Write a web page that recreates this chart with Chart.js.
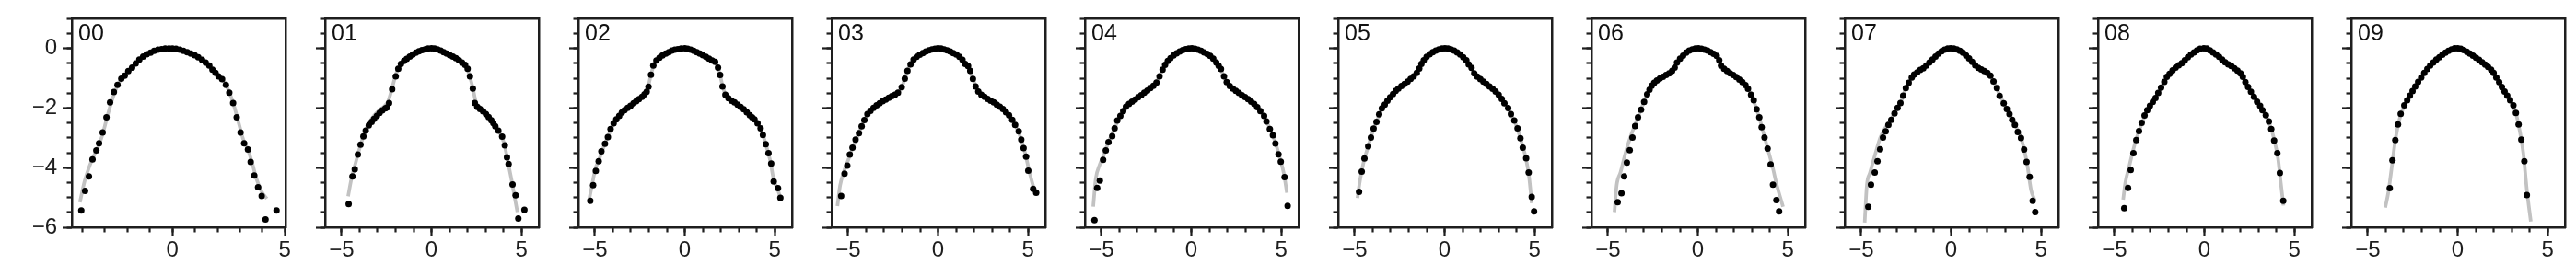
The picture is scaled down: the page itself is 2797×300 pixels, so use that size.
<!DOCTYPE html>
<html><head><meta charset="utf-8">
<script src="https://cdn.jsdelivr.net/npm/chart.js@4/dist/chart.umd.min.js"></script>
<style>
html,body{margin:0;padding:0;background:#fff;width:2797px;height:300px;overflow:hidden;position:relative}
canvas{position:absolute;top:0}
</style></head><body>
<script>
// ---------- data ----------
const panelLabels = ['00','01','02','03','04','05','06','07','08','09'];
const xLimits = [[-4.47,5.03],[-5.92,5.97],[-5.92,5.97],[-5.92,5.97],[-5.92,5.97],[-5.92,5.97],[-5.92,5.97],[-5.92,5.97],[-5.92,5.97],[-5.92,5.97]];
const yLimits = [-6, 1];
const xMajorTicks = [-5, 0, 5];
const xMinorTicks = [-5, -4, -3, -2, -1, 0, 1, 2, 3, 4, 5];
const yMajorTicks = [-6, -4, -2, 0];
const yMinorTicks = [-6, -5.5, -5, -4.5, -4, -3.5, -3, -2.5, -2, -1.5, -1, -0.5, 0, 0.5, 1];

// measured points [x, y]
const dots00 = [[-4.05,-5.44],[-3.88,-4.78],[-3.71,-4.29],[-3.55,-3.72],[-3.38,-3.42],[-3.26,-3.18],[-3.10,-2.82],[-2.93,-2.31],[-2.77,-1.81],[-2.60,-1.46],[-2.44,-1.22],[-2.27,-1.01],[-2.12,-0.91],[-1.96,-0.76],[-1.79,-0.64],[-1.63,-0.50],[-1.47,-0.37],[-1.30,-0.27],[-1.14,-0.19],[-0.97,-0.14],[-0.81,-0.08],[-0.64,-0.04],[-0.48,-0.02],[-0.32,0.00],[-0.15,0.00],[0.00,0.00],[0.16,-0.01],[0.33,-0.04],[0.49,-0.08],[0.66,-0.12],[0.82,-0.17],[0.99,-0.22],[1.15,-0.29],[1.32,-0.38],[1.48,-0.47],[1.64,-0.57],[1.78,-0.71],[1.92,-0.82],[2.05,-0.93],[2.21,-1.03],[2.38,-1.22],[2.53,-1.48],[2.70,-1.83],[2.86,-2.31],[3.03,-2.82],[3.19,-3.18],[3.36,-3.39],[3.48,-3.81],[3.64,-4.26],[3.81,-4.66],[3.97,-4.95],[4.14,-5.74],[4.63,-5.44]];
const dots01 = [[-4.61,-5.22],[-4.40,-4.29],[-4.27,-4.05],[-4.10,-3.56],[-3.95,-3.23],[-3.79,-2.95],[-3.66,-2.76],[-3.49,-2.58],[-3.33,-2.46],[-3.20,-2.36],[-3.04,-2.26],[-2.89,-2.16],[-2.74,-2.08],[-2.57,-2.01],[-2.47,-1.98],[-2.36,-1.83],[-2.19,-1.37],[-1.99,-0.93],[-1.85,-0.68],[-1.70,-0.52],[-1.53,-0.42],[-1.38,-0.35],[-1.21,-0.27],[-1.04,-0.20],[-0.87,-0.14],[-0.70,-0.09],[-0.53,-0.05],[-0.36,-0.03],[-0.19,0.00],[0.00,0.01],[0.17,0.00],[0.34,-0.03],[0.51,-0.07],[0.68,-0.12],[0.85,-0.17],[1.02,-0.22],[1.19,-0.27],[1.36,-0.32],[1.53,-0.39],[1.70,-0.47],[1.87,-0.55],[2.01,-0.68],[2.14,-0.93],[2.30,-1.34],[2.41,-1.83],[2.55,-1.96],[2.70,-2.03],[2.87,-2.11],[3.03,-2.20],[3.18,-2.30],[3.33,-2.41],[3.44,-2.50],[3.55,-2.61],[3.72,-2.76],[3.93,-2.96],[4.08,-3.25],[4.20,-3.65],[4.29,-3.88],[4.51,-4.56],[4.68,-4.93],[4.83,-5.71],[5.17,-5.41]];
const dots02 = [[-5.26,-5.11],[-5.10,-4.59],[-4.95,-4.11],[-4.79,-3.78],[-4.64,-3.45],[-4.44,-3.20],[-4.28,-2.97],[-4.13,-2.70],[-3.96,-2.51],[-3.81,-2.38],[-3.65,-2.26],[-3.50,-2.15],[-3.35,-2.07],[-3.18,-1.99],[-3.02,-1.92],[-2.85,-1.84],[-2.70,-1.77],[-2.55,-1.70],[-2.38,-1.62],[-2.24,-1.54],[-2.12,-1.45],[-2.02,-1.28],[-1.88,-0.88],[-1.75,-0.57],[-1.58,-0.40],[-1.41,-0.31],[-1.24,-0.23],[-1.06,-0.17],[-0.89,-0.12],[-0.72,-0.07],[-0.55,-0.04],[-0.38,-0.02],[-0.20,0.00],[0.00,0.01],[0.16,-0.01],[0.33,-0.04],[0.50,-0.08],[0.67,-0.12],[0.84,-0.17],[1.01,-0.22],[1.18,-0.28],[1.35,-0.34],[1.52,-0.40],[1.69,-0.45],[1.85,-0.64],[1.97,-0.89],[2.10,-1.27],[2.26,-1.55],[2.43,-1.67],[2.60,-1.75],[2.77,-1.81],[2.94,-1.88],[3.11,-1.96],[3.28,-2.04],[3.45,-2.14],[3.62,-2.24],[3.75,-2.31],[3.88,-2.38],[4.05,-2.51],[4.22,-2.68],[4.35,-2.90],[4.51,-3.21],[4.66,-3.51],[4.81,-3.86],[4.95,-4.46],[5.19,-4.69],[5.32,-5.01]];
const dots03 = [[-5.39,-4.95],[-5.20,-4.20],[-5.05,-3.93],[-4.91,-3.56],[-4.76,-3.33],[-4.59,-3.06],[-4.40,-2.84],[-4.25,-2.61],[-4.10,-2.40],[-3.93,-2.20],[-3.76,-2.09],[-3.59,-1.99],[-3.42,-1.91],[-3.25,-1.84],[-3.08,-1.77],[-2.91,-1.71],[-2.74,-1.65],[-2.57,-1.60],[-2.40,-1.55],[-2.23,-1.48],[-2.02,-1.30],[-1.85,-1.01],[-1.70,-0.75],[-1.53,-0.53],[-1.36,-0.37],[-1.19,-0.28],[-1.02,-0.21],[-0.85,-0.15],[-0.68,-0.10],[-0.51,-0.06],[-0.34,-0.03],[-0.17,-0.01],[0.00,0.01],[0.17,0.00],[0.34,-0.03],[0.51,-0.06],[0.68,-0.10],[0.85,-0.15],[1.02,-0.20],[1.19,-0.28],[1.36,-0.38],[1.51,-0.52],[1.67,-0.59],[1.79,-0.75],[1.94,-1.02],[2.09,-1.27],[2.24,-1.44],[2.41,-1.55],[2.59,-1.62],[2.76,-1.69],[2.93,-1.75],[3.10,-1.81],[3.27,-1.88],[3.44,-1.95],[3.61,-2.03],[3.78,-2.14],[3.95,-2.24],[4.13,-2.39],[4.29,-2.56],[4.49,-2.78],[4.63,-3.06],[4.76,-3.34],[4.90,-3.63],[5.02,-4.10],[5.29,-4.71],[5.46,-4.84]];
const dots04 = [[-5.39,-5.76],[-5.24,-4.68],[-5.09,-4.43],[-4.91,-3.74],[-4.76,-3.42],[-4.61,-3.14],[-4.40,-2.94],[-4.27,-2.68],[-4.12,-2.42],[-3.95,-2.26],[-3.79,-2.10],[-3.64,-1.95],[-3.47,-1.86],[-3.30,-1.78],[-3.13,-1.71],[-2.96,-1.64],[-2.79,-1.57],[-2.62,-1.48],[-2.45,-1.41],[-2.28,-1.33],[-2.11,-1.25],[-1.94,-1.14],[-1.77,-0.93],[-1.60,-0.71],[-1.46,-0.55],[-1.31,-0.42],[-1.16,-0.32],[-0.99,-0.23],[-0.82,-0.16],[-0.65,-0.10],[-0.48,-0.05],[-0.31,-0.02],[-0.14,0.00],[0.03,0.01],[0.20,-0.01],[0.37,-0.04],[0.54,-0.08],[0.71,-0.13],[0.88,-0.18],[1.05,-0.25],[1.22,-0.34],[1.39,-0.47],[1.52,-0.58],[1.65,-0.69],[1.82,-0.93],[1.97,-1.13],[2.14,-1.26],[2.31,-1.34],[2.48,-1.42],[2.65,-1.49],[2.82,-1.57],[2.99,-1.63],[3.16,-1.70],[3.33,-1.78],[3.50,-1.86],[3.67,-1.97],[3.84,-2.10],[4.05,-2.26],[4.18,-2.45],[4.37,-2.70],[4.54,-2.91],[4.68,-3.19],[4.85,-3.55],[4.98,-3.80],[5.19,-4.32],[5.36,-5.28]];
const dots05 = [[-4.76,-4.81],[-4.61,-4.13],[-4.46,-3.69],[-4.25,-3.28],[-4.10,-2.99],[-3.95,-2.69],[-3.79,-2.46],[-3.64,-2.21],[-3.49,-2.01],[-3.33,-1.88],[-3.18,-1.75],[-3.03,-1.64],[-2.87,-1.53],[-2.72,-1.42],[-2.57,-1.34],[-2.40,-1.26],[-2.23,-1.19],[-2.06,-1.11],[-1.89,-1.02],[-1.72,-0.93],[-1.55,-0.82],[-1.41,-0.67],[-1.29,-0.52],[-1.16,-0.39],[-1.00,-0.28],[-0.83,-0.19],[-0.66,-0.12],[-0.49,-0.07],[-0.32,-0.03],[-0.15,0.00],[0.02,0.01],[0.19,0.00],[0.36,-0.03],[0.53,-0.07],[0.70,-0.13],[0.87,-0.20],[1.04,-0.29],[1.21,-0.39],[1.34,-0.53],[1.50,-0.65],[1.65,-0.83],[1.82,-0.94],[1.99,-1.03],[2.16,-1.11],[2.33,-1.19],[2.50,-1.27],[2.67,-1.35],[2.84,-1.44],[3.01,-1.55],[3.18,-1.69],[3.33,-1.84],[3.54,-2.00],[3.69,-2.20],[3.88,-2.42],[4.06,-2.68],[4.22,-3.01],[4.35,-3.33],[4.54,-3.68],[4.68,-4.16],[4.85,-4.98],[4.98,-5.47]];
const dots06 = [[-4.46,-5.16],[-4.25,-4.86],[-4.10,-4.29],[-3.95,-3.83],[-3.79,-3.41],[-3.64,-2.99],[-3.49,-2.60],[-3.33,-2.31],[-3.16,-2.05],[-2.99,-1.79],[-2.82,-1.54],[-2.69,-1.38],[-2.57,-1.25],[-2.43,-1.15],[-2.28,-1.07],[-2.11,-1.00],[-1.94,-0.95],[-1.77,-0.89],[-1.60,-0.83],[-1.43,-0.75],[-1.29,-0.64],[-1.16,-0.47],[-0.99,-0.34],[-0.82,-0.24],[-0.65,-0.14],[-0.48,-0.07],[-0.31,-0.03],[-0.14,0.00],[0.03,0.01],[0.20,-0.01],[0.37,-0.04],[0.54,-0.07],[0.71,-0.12],[0.88,-0.18],[1.05,-0.25],[1.19,-0.39],[1.29,-0.57],[1.46,-0.68],[1.63,-0.76],[1.80,-0.83],[1.97,-0.89],[2.14,-0.96],[2.31,-1.04],[2.48,-1.13],[2.65,-1.23],[2.79,-1.35],[2.96,-1.55],[3.11,-1.74],[3.27,-2.04],[3.42,-2.31],[3.55,-2.64],[3.71,-2.99],[3.88,-3.36],[4.05,-3.89],[4.18,-4.57],[4.37,-5.09],[4.52,-5.47]];
const dots07 = [[-4.61,-5.31],[-4.46,-4.57],[-4.25,-4.16],[-4.10,-3.78],[-3.95,-3.38],[-3.79,-2.99],[-3.64,-2.78],[-3.49,-2.56],[-3.33,-2.39],[-3.15,-2.18],[-2.98,-1.99],[-2.82,-1.83],[-2.67,-1.58],[-2.52,-1.33],[-2.36,-1.15],[-2.19,-0.97],[-2.06,-0.87],[-1.89,-0.80],[-1.72,-0.72],[-1.55,-0.66],[-1.38,-0.57],[-1.21,-0.47],[-1.04,-0.37],[-0.87,-0.27],[-0.70,-0.17],[-0.53,-0.09],[-0.36,-0.04],[-0.19,0.00],[-0.02,0.01],[0.15,0.00],[0.32,-0.03],[0.49,-0.08],[0.66,-0.14],[0.83,-0.23],[1.00,-0.33],[1.17,-0.45],[1.34,-0.56],[1.51,-0.65],[1.68,-0.70],[1.85,-0.76],[2.02,-0.82],[2.19,-0.91],[2.36,-1.10],[2.55,-1.33],[2.70,-1.59],[2.93,-1.84],[3.10,-2.03],[3.25,-2.20],[3.40,-2.39],[3.55,-2.56],[3.71,-2.80],[3.89,-3.00],[4.06,-3.39],[4.20,-3.81],[4.37,-4.31],[4.54,-5.11],[4.68,-5.49]];
const dots08 = [[-4.46,-5.36],[-4.25,-4.68],[-4.10,-4.08],[-3.95,-3.51],[-3.79,-3.07],[-3.64,-2.77],[-3.49,-2.49],[-3.33,-2.25],[-3.18,-2.07],[-3.03,-1.92],[-2.87,-1.79],[-2.72,-1.66],[-2.57,-1.49],[-2.41,-1.31],[-2.23,-1.12],[-2.09,-0.95],[-1.94,-0.85],[-1.77,-0.73],[-1.60,-0.64],[-1.43,-0.56],[-1.26,-0.49],[-1.09,-0.39],[-0.92,-0.29],[-0.75,-0.20],[-0.58,-0.13],[-0.41,-0.06],[-0.24,-0.01],[-0.03,0.01],[0.14,0.00],[0.31,-0.06],[0.48,-0.13],[0.65,-0.20],[0.82,-0.28],[0.99,-0.37],[1.16,-0.46],[1.33,-0.53],[1.50,-0.59],[1.67,-0.66],[1.84,-0.74],[2.01,-0.83],[2.14,-0.95],[2.28,-1.13],[2.43,-1.29],[2.59,-1.45],[2.76,-1.62],[2.93,-1.78],[3.10,-1.92],[3.23,-2.07],[3.42,-2.24],[3.59,-2.45],[3.72,-2.70],[3.88,-3.09],[4.06,-3.51],[4.20,-4.18],[4.39,-5.11]];
const dots09 = [[-3.78,-4.69],[-3.63,-3.75],[-3.47,-3.07],[-3.32,-2.55],[-3.17,-2.19],[-2.97,-1.91],[-2.81,-1.74],[-2.66,-1.58],[-2.51,-1.43],[-2.36,-1.27],[-2.20,-1.12],[-2.03,-0.97],[-1.86,-0.82],[-1.69,-0.69],[-1.53,-0.57],[-1.36,-0.47],[-1.19,-0.37],[-1.02,-0.29],[-0.85,-0.21],[-0.68,-0.14],[-0.51,-0.08],[-0.34,-0.03],[-0.17,0.01],[0.00,0.01],[0.17,-0.01],[0.34,-0.05],[0.51,-0.11],[0.68,-0.17],[0.85,-0.24],[1.02,-0.31],[1.19,-0.38],[1.36,-0.46],[1.53,-0.54],[1.69,-0.62],[1.86,-0.71],[2.00,-0.82],[2.15,-0.97],[2.31,-1.13],[2.46,-1.29],[2.61,-1.44],[2.76,-1.58],[2.92,-1.74],[3.10,-1.91],[3.24,-2.16],[3.39,-2.55],[3.54,-3.06],[3.71,-3.78],[3.85,-4.92]];

// smooth fitted curve (grey) [x, y]
const fit00 = [[-4.11,-5.16],[-3.9,-4.45],[-3.7,-3.98],[-3.5,-3.62],[-3.3,-3.3],[-3.1,-2.88],[-2.9,-2.3],[-2.7,-1.78],[-2.5,-1.35],[-2.3,-1.06],[-2.0,-0.8],[-1.6,-0.48],[-1.2,-0.22],[-0.7,-0.07],[0,0],[0.6,-0.09],[1.0,-0.22],[1.4,-0.42],[1.8,-0.72],[2.1,-0.96],[2.35,-1.18],[2.55,-1.5],[2.75,-1.95],[2.95,-2.5],[3.15,-3.05],[3.35,-3.38],[3.55,-3.85],[3.75,-4.4],[3.95,-4.78],[4.2,-5.04]];
const fit01 = [[-4.64,-4.96],[-4.45,-4.35],[-4.25,-3.9],[-4.0,-3.35],[-3.75,-2.88],[-3.5,-2.52],[-3.2,-2.25],[-2.9,-2.07],[-2.6,-1.92],[-2.4,-1.75],[-2.2,-1.35],[-2.0,-0.9],[-1.8,-0.6],[-1.5,-0.4],[-1.0,-0.19],[-0.5,-0.05],[0,0],[0.5,-0.07],[1.0,-0.22],[1.5,-0.38],[1.9,-0.58],[2.1,-0.88],[2.3,-1.32],[2.45,-1.75],[2.6,-1.93],[2.9,-2.08],[3.2,-2.27],[3.5,-2.55],[3.8,-2.83],[4.05,-3.2],[4.25,-3.8],[4.45,-4.4],[4.6,-4.9],[4.78,-5.49]];
const fit02 = [[-5.33,-5.1],[-5.15,-4.55],[-4.98,-4.05],[-4.75,-3.7],[-4.5,-3.28],[-4.2,-2.85],[-3.9,-2.46],[-3.5,-2.15],[-3.0,-1.91],[-2.5,-1.67],[-2.25,-1.52],[-2.05,-1.3],[-1.88,-0.88],[-1.72,-0.55],[-1.5,-0.36],[-1.0,-0.15],[-0.5,-0.03],[0,0],[0.5,-0.08],[1.0,-0.22],[1.5,-0.39],[1.75,-0.5],[1.95,-0.85],[2.12,-1.3],[2.3,-1.58],[2.6,-1.75],[3.0,-1.92],[3.5,-2.17],[3.9,-2.4],[4.25,-2.72],[4.5,-3.2],[4.75,-3.75],[4.95,-4.4],[5.15,-4.7],[5.35,-5.05]];
const fit03 = [[-5.6,-5.29],[-5.45,-4.6],[-5.25,-4.15],[-5.0,-3.75],[-4.75,-3.33],[-4.45,-2.9],[-4.15,-2.47],[-3.9,-2.18],[-3.5,-1.95],[-3.0,-1.74],[-2.5,-1.57],[-2.2,-1.45],[-2.0,-1.27],[-1.8,-0.92],[-1.6,-0.6],[-1.35,-0.37],[-1.0,-0.2],[-0.5,-0.06],[0,0],[0.5,-0.06],[1.0,-0.2],[1.4,-0.42],[1.7,-0.68],[1.95,-1.03],[2.2,-1.4],[2.5,-1.59],[3.0,-1.78],[3.5,-1.98],[3.9,-2.2],[4.25,-2.52],[4.55,-2.92],[4.85,-3.52],[5.05,-4.05],[5.3,-4.62],[5.48,-4.79]];
const fit04 = [[-5.46,-5.31],[-5.32,-4.38],[-5.1,-3.9],[-4.9,-3.62],[-4.6,-3.12],[-4.3,-2.72],[-4.0,-2.3],[-3.7,-2.0],[-3.3,-1.78],[-2.8,-1.57],[-2.3,-1.34],[-2.0,-1.18],[-1.8,-0.96],[-1.55,-0.65],[-1.3,-0.42],[-1.0,-0.23],[-0.5,-0.05],[0,0],[0.5,-0.07],[1.0,-0.22],[1.35,-0.44],[1.65,-0.72],[1.9,-1.05],[2.15,-1.26],[2.5,-1.43],[3.0,-1.64],[3.5,-1.87],[3.85,-2.1],[4.1,-2.35],[4.4,-2.72],[4.7,-3.2],[4.95,-3.72],[5.15,-4.2],[5.32,-4.84]];
const fit05 = [[-4.85,-5.02],[-4.7,-4.4],[-4.5,-3.8],[-4.25,-3.28],[-4.0,-2.8],[-3.75,-2.4],[-3.5,-2.04],[-3.2,-1.77],[-2.9,-1.55],[-2.5,-1.3],[-2.0,-1.08],[-1.6,-0.86],[-1.4,-0.66],[-1.2,-0.43],[-1.0,-0.28],[-0.5,-0.07],[0,0],[0.5,-0.07],[1.0,-0.27],[1.3,-0.5],[1.6,-0.78],[1.9,-0.99],[2.3,-1.18],[2.8,-1.42],[3.1,-1.6],[3.4,-1.9],[3.7,-2.22],[4.0,-2.6],[4.25,-3.08],[4.5,-3.62],[4.7,-4.3],[4.85,-5.19]];
const fit06 = [[-4.64,-5.49],[-4.52,-4.6],[-4.3,-4.15],[-4.0,-3.45],[-3.7,-2.88],[-3.4,-2.42],[-3.1,-1.95],[-2.8,-1.52],[-2.55,-1.23],[-2.2,-1.03],[-1.8,-0.9],[-1.45,-0.76],[-1.25,-0.58],[-1.0,-0.35],[-0.5,-0.07],[0,0],[0.5,-0.06],[1.0,-0.23],[1.2,-0.42],[1.35,-0.62],[1.7,-0.8],[2.1,-0.95],[2.5,-1.14],[2.8,-1.36],[3.1,-1.75],[3.4,-2.28],[3.7,-2.95],[3.95,-3.5],[4.15,-3.95],[4.4,-4.6],[4.74,-5.31]];
const fit07 = [[-4.81,-5.84],[-4.69,-4.59],[-4.52,-4.18],[-4.2,-3.5],[-3.95,-3.0],[-3.7,-2.7],[-3.4,-2.42],[-3.1,-2.12],[-2.8,-1.8],[-2.55,-1.38],[-2.3,-1.08],[-2.05,-0.87],[-1.7,-0.72],[-1.4,-0.58],[-1.0,-0.35],[-0.5,-0.08],[0,0],[0.5,-0.08],[1.0,-0.33],[1.4,-0.6],[1.7,-0.71],[2.1,-0.86],[2.35,-1.08],[2.6,-1.42],[2.9,-1.8],[3.2,-2.15],[3.5,-2.5],[3.85,-2.92],[4.05,-3.35],[4.25,-3.95],[4.45,-4.75],[4.66,-5.09]];
const fit08 = [[-4.52,-5.07],[-4.4,-4.5],[-4.2,-4.0],[-4.0,-3.5],[-3.8,-3.05],[-3.5,-2.55],[-3.2,-2.1],[-2.9,-1.8],[-2.6,-1.52],[-2.3,-1.2],[-2.0,-0.9],[-1.6,-0.64],[-1.2,-0.45],[-0.8,-0.24],[-0.4,-0.06],[0,0],[0.4,-0.1],[0.8,-0.27],[1.2,-0.48],[1.6,-0.63],[2.0,-0.82],[2.3,-1.15],[2.7,-1.56],[3.1,-1.93],[3.4,-2.24],[3.7,-2.65],[3.9,-3.1],[4.1,-3.7],[4.25,-4.5],[4.40,-5.27]];
const fit09 = [[-4.03,-5.34],[-3.85,-4.8],[-3.65,-3.9],[-3.45,-3.0],[-3.25,-2.4],[-3.0,-1.95],[-2.7,-1.62],[-2.4,-1.3],[-2.0,-0.95],[-1.6,-0.62],[-1.2,-0.37],[-0.8,-0.19],[-0.4,-0.05],[0,0],[0.4,-0.06],[0.8,-0.22],[1.2,-0.38],[1.6,-0.57],[1.9,-0.74],[2.2,-1.06],[2.5,-1.38],[2.8,-1.62],[3.05,-1.9],[3.25,-2.2],[3.45,-2.75],[3.65,-3.5],[3.85,-4.75],[4.07,-5.81]];

const dotSets = [dots00, dots01, dots02, dots03, dots04, dots05, dots06, dots07, dots08, dots09];
const fitSets = [fit00, fit01, fit02, fit03, fit04, fit05, fit06, fit07, fit08, fit09];

// ---------- drawing ----------
const INK = '#1e1e1e';
const FAMILY = '"Liberation Sans", Arial, Helvetica, sans-serif';
const TICK_FONT = {family: FAMILY, size: 24};
const fmt = v => (v < 0 ? '\u2212' + Math.abs(v) : String(v));
const setTicks = list => s => { s.ticks = list.filter(v => v >= s.min - 1e-9 && v <= s.max + 1e-9).map(v => ({value: v})); };
const fixW = w => s => { s.width = w; };
const fixH = h => s => { s.height = h; };

const panelLabelPlugin = {
  id: 'panelLabel',
  afterDraw(chart, args, opts) {
    const {ctx, chartArea} = chart;
    ctx.save();
    ctx.font = '25px ' + FAMILY;
    ctx.fillStyle = '#111';
    ctx.textBaseline = 'alphabetic';
    ctx.textAlign = 'left';
    ctx.fillText(opts.text, chartArea.left + 7, chartArea.top + 23.6);
    ctx.restore();
  }
};

const SPACING = 275, CW = 320, CH = 300;
panelLabels.forEach((label, i) => {
  const cv = document.createElement('canvas');
  cv.width = CW; cv.height = CH;
  cv.style.left = (SPACING * i) + 'px';
  cv.style.width = CW + 'px'; cv.style.height = CH + 'px';
  document.body.appendChild(cv);
  const [xmin, xmax] = xLimits[i];
  const common = {type: 'linear', min: xmin, max: xmax, bounds: 'data'};
  const commonY = {type: 'linear', min: yLimits[0], max: yLimits[1], bounds: 'data'};
  new Chart(cv, {
    type: 'scatter',
    data: {datasets: [
      {data: fitSets[i].map(([x, y]) => ({x, y})), showLine: true, borderColor: '#c2c2c2', borderWidth: 3.8,
       pointRadius: 0, pointHoverRadius: 0, cubicInterpolationMode: 'monotone', fill: false, order: 2, xAxisID: 'x', yAxisID: 'y'},
      {data: dotSets[i].map(([x, y]) => ({x, y})), showLine: false, pointRadius: 3.5, pointHoverRadius: 3.5,
       pointBackgroundColor: '#000', pointBorderColor: '#000', pointBorderWidth: 0, order: 1, xAxisID: 'x', yAxisID: 'y'}
    ]},
    options: {
      responsive: false, animation: false, devicePixelRatio: 1, events: [],
      layout: {padding: {top: 15, left: 0, right: CW - 310, bottom: 0}},
      plugins: {legend: {display: false}, tooltip: {enabled: false}, panelLabel: {text: label}},
      scales: {
        x: {...common, axis: 'x', position: 'bottom', weight: 1, afterBuildTicks: setTicks(xMajorTicks), afterFit: fixH(CH - 247),
            grid: {display: true, drawOnChartArea: false, drawTicks: true, tickLength: 10, tickWidth: 2.2, tickColor: INK},
            border: {display: true, width: 2.5, color: INK},
            ticks: {font: TICK_FONT, color: INK, padding: 1, autoSkip: false, maxRotation: 0, minRotation: 0, callback: fmt}},
        xMinor: {...common, axis: 'x', position: 'bottom', weight: 0, afterBuildTicks: setTicks(xMinorTicks), afterFit: fixH(0),
            grid: {display: true, drawOnChartArea: false, drawTicks: true, tickLength: 5.5, tickWidth: 2.2, tickColor: INK},
            border: {display: false}, ticks: {display: false}},
        xTop: {...common, axis: 'x', position: 'top', afterFit: fixH(0),
            grid: {display: false}, border: {display: true, width: 2.5, color: INK}, ticks: {display: false}},
        y: {...commonY, axis: 'y', position: 'left', weight: 1, afterBuildTicks: setTicks(yMajorTicks), afterFit: fixW(78),
            grid: {display: true, drawOnChartArea: false, drawTicks: true, tickLength: 10, tickWidth: 2.2, tickColor: INK},
            border: {display: true, width: 2.5, color: INK},
            ticks: {font: TICK_FONT, color: INK, padding: 6, autoSkip: false, callback: i === 0 ? fmt : () => ''}},
        yMinor: {...commonY, axis: 'y', position: 'left', weight: 0, afterBuildTicks: setTicks(yMinorTicks), afterFit: fixW(0),
            grid: {display: true, drawOnChartArea: false, drawTicks: true, tickLength: 5.5, tickWidth: 2.2, tickColor: INK},
            border: {display: false}, ticks: {display: false}},
        yRight: {...commonY, axis: 'y', position: 'right', afterFit: fixW(0),
            grid: {display: false}, border: {display: true, width: 2.5, color: INK}, ticks: {display: false}}
      }
    },
    plugins: [panelLabelPlugin]
  });
});
</script>
</body></html>
